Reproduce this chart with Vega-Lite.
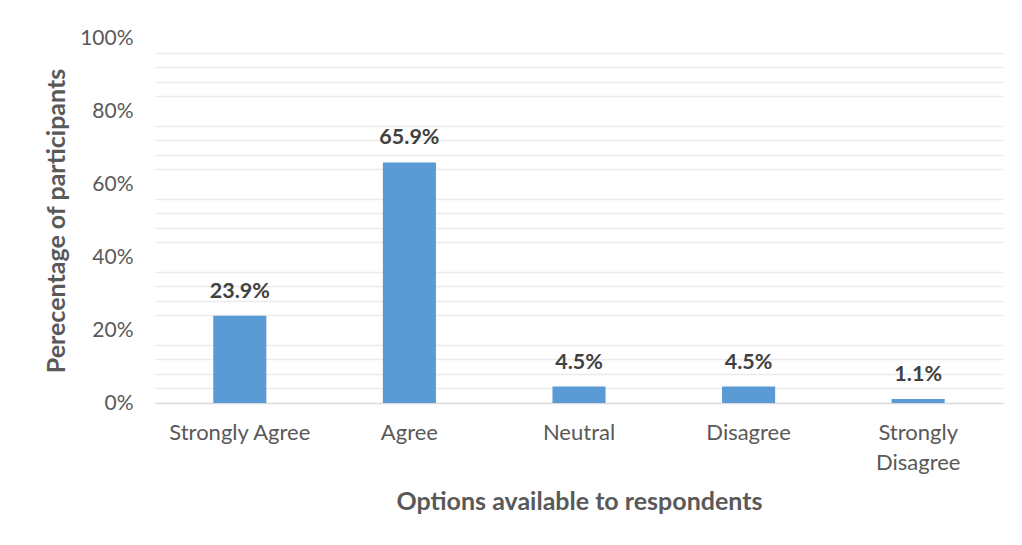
{
  "$schema": "https://vega.github.io/schema/vega-lite/v6.json",
  "autosize": "none",
  "width": 848,
  "height": 365,
  "padding": {"left": 155, "top": 38, "right": 19, "bottom": 142},
  "background": "white",
  "config": {
    "view": {"stroke": null},
    "font": "Lato"
  },
  "data": {
    "values": [
      {"option": "Strongly Agree", "value": 0.239},
      {"option": "Agree", "value": 0.659},
      {"option": "Neutral", "value": 0.045},
      {"option": "Disagree", "value": 0.045},
      {"option": "Strongly Disagree", "value": 0.011}
    ]
  },
  "encoding": {
    "x": {
      "field": "option",
      "type": "nominal",
      "sort": null,
      "scale": {"paddingInner": 0.687, "paddingOuter": 0.3435},
      "axis": {
        "title": "Options available to respondents",
        "titleFont": "Lato",
        "titleFontSize": 25,
        "titleFontWeight": "bold",
        "titleColor": "#595959",
        "titlePadding": 16,
        "labelAngle": 0,
        "labelFont": "Lato",
        "labelFontSize": 22,
        "labelColor": "#595959",
        "labelPadding": 19,
        "labelLineHeight": 30,
        "labelExpr": "datum.label == 'Strongly Disagree' ? ['Strongly', 'Disagree'] : datum.label",
        "ticks": false,
        "domainColor": "#D9D9D9",
        "domainWidth": 1.5,
        "grid": false
      }
    },
    "y": {
      "field": "value",
      "type": "quantitative",
      "scale": {"domain": [0, 1], "nice": false},
      "axis": {
        "title": "Perecentage of participants",
        "titleFont": "Lato",
        "titleFontSize": 25,
        "titleFontWeight": "bold",
        "titleColor": "#595959",
        "titlePadding": 10,
        "values": [0, 0.04, 0.08, 0.12, 0.16, 0.2, 0.24, 0.28, 0.32, 0.36, 0.4, 0.44, 0.48, 0.52, 0.56, 0.6, 0.64, 0.68, 0.72, 0.76, 0.8, 0.84, 0.88, 0.92, 0.96, 1],
        "labelExpr": "round(datum.value * 100) % 20 === 0 ? round(datum.value * 100) + '%' : ''",
        "labelFont": "Lato",
        "labelFontSize": 21,
        "labelColor": "#595959",
        "labelPadding": 22,
        "ticks": false,
        "domain": false,
        "grid": true,
        "gridColor": "#EBEBEB",
        "gridWidth": 1.5,
        "gridOpacity": {"condition": {"test": "round(datum.value * 100) % 20 === 0", "value": 0}, "value": 1}
      }
    }
  },
  "layer": [
    {
      "mark": {"type": "bar", "color": "#5B9BD5"}
    },
    {
      "mark": {"type": "text", "baseline": "alphabetic", "dy": -18, "font": "Lato", "fontSize": 21.5, "fontWeight": "bold", "color": "#404040"},
      "encoding": {
        "text": {"field": "value", "type": "quantitative", "format": ".1%"}
      }
    }
  ]
}
